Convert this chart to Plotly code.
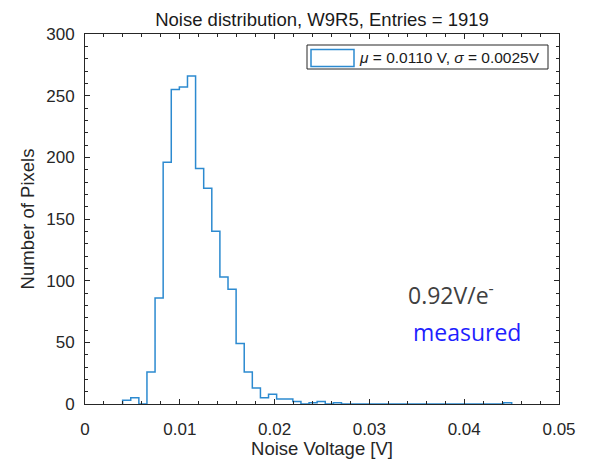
import plotly.graph_objects as go

# ---- data ----
bin_start = 0.00397          # left edge of first bin [V]
bin_width = 0.000855         # bin width [V]
counts = [3, 5, 0, 26, 86, 196, 255, 257, 266, 191, 175, 140, 103, 93, 49, 26,
          13, 5, 8, 4, 4, 2, 0, 1, 2, 0, 1,
          0, 0, 0, 0, 0, 0, 0, 0, 0, 0, 0, 0, 0, 0, 0, 0, 0, 0, 0, 0,
          1]
x_ticks = [0, 0.01, 0.02, 0.03, 0.04, 0.05]
x_tick_labels = ["0", "0.01", "0.02", "0.03", "0.04", "0.05"]
y_ticks = [0, 50, 100, 150, 200, 250, 300]

title_text = "Noise distribution, W9R5, Entries = 1919"
legend_text = "<i>μ</i> = 0.0110 V, <i>σ</i> = 0.0025V"

# stairs outline built from bin edges
edges = [bin_start + i * bin_width for i in range(len(counts) + 1)]
xs = [edges[0]] + edges + [edges[-1]]
ys = [0] + counts + [counts[-1]] + [0]

axis_col = "#262626"
line_col = "#2c8ad0"
font_fam = "Liberation Sans, Arial, sans-serif"

fig = go.Figure()
fig.add_trace(go.Scatter(x=xs, y=ys, mode="lines", line=dict(color=line_col, width=1.5, shape="hv"),
                         showlegend=False, hoverinfo="skip"))

fig.update_layout(
    width=603, height=459,
    margin=dict(l=85, r=44, t=34, b=55),
    paper_bgcolor="white", plot_bgcolor="white",
    font=dict(family=font_fam, color=axis_col, size=17),
    title=dict(text=title_text, x=(322) / 603, xanchor="center", y=1 - 20 / 459, yanchor="middle",
               font=dict(size=18.5, color="#1a1a1a")),
    showlegend=False,
)

common = dict(showline=True, linecolor=axis_col, linewidth=1, mirror="ticks", ticks="inside",
              ticklen=5, tickcolor=axis_col, showgrid=False, zeroline=False, automargin=False)
fig.update_xaxes(range=[0, 0.05], tickvals=x_ticks, ticktext=x_tick_labels,
                 minor=dict(dtick=0.002, ticks="inside", ticklen=3, tickcolor=axis_col, showgrid=False),
                 title=dict(text="Noise Voltage [V]", font=dict(size=18.5), standoff=1),
                 ticklabelstandoff=10, **common)
fig.update_yaxes(range=[0, 300], tickvals=y_ticks,
                 minor=dict(dtick=10, ticks="inside", ticklen=3, tickcolor=axis_col, showgrid=False),
                 title=dict(text="Number of Pixels", font=dict(size=18.5), standoff=6),
                 ticklabelstandoff=6, **common)

# legend (drawn as a box, symbol and text)
def px_x(p):
    return (p - 85) / 474
def px_y(p):
    return (404 - p) / 370

fig.add_shape(type="rect", xref="paper", yref="paper", x0=px_x(307), x1=px_x(548), y0=px_y(69), y1=px_y(45),
              line=dict(color=axis_col, width=1), fillcolor="white", layer="above")
fig.add_shape(type="rect", xref="paper", yref="paper", x0=px_x(311), x1=px_x(354), y0=px_y(66.5), y1=px_y(49.5),
              line=dict(color=line_col, width=1.5), fillcolor="white", layer="above")
fig.add_annotation(xref="paper", yref="paper", x=px_x(357), y=px_y(57.5), xanchor="left", yanchor="middle",
                   text=legend_text, showarrow=False, font=dict(size=15.5, color="#1a1a1a"))

fig.add_annotation(xref="paper", yref="paper", x=px_x(406), y=px_y(294), xanchor="left", yanchor="middle",
                   text="0.92V/e<sup>-</sup>", showarrow=False,
                   font=dict(family="Open Sans, sans-serif", size=23, color="#404040"))
fig.add_annotation(xref="paper", yref="paper", x=px_x(410.5), y=px_y(332), xanchor="left", yanchor="middle",
                   text="measured", showarrow=False,
                   font=dict(family="Open Sans, sans-serif", size=23, color="#1f1fff"))

fig.write_html("out.html")
